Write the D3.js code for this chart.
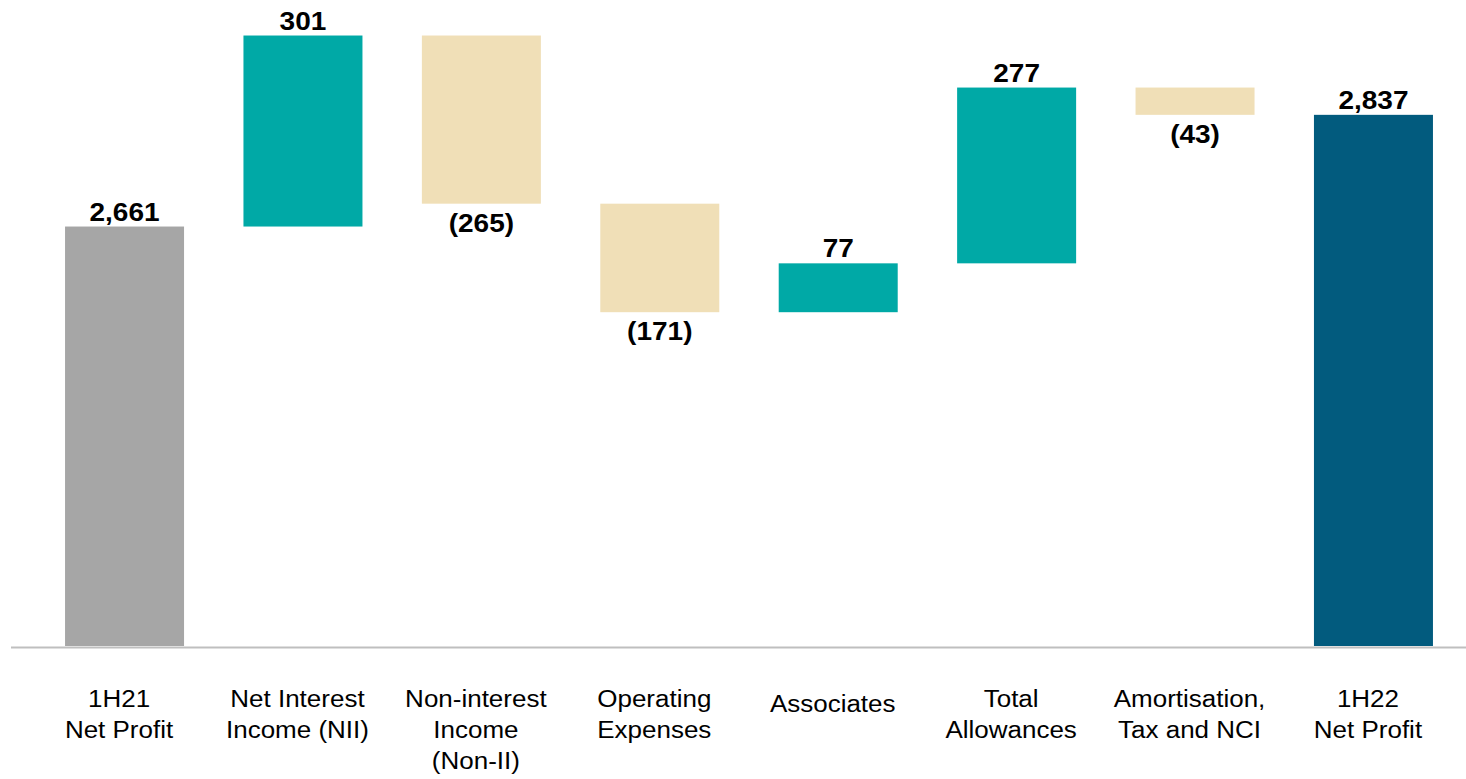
<!DOCTYPE html>
<html>
<head>
<meta charset="utf-8">
<script src="https://cdn.jsdelivr.net/npm/d3@7"></script>
<style>
  html, body { margin: 0; padding: 0; background: #fff; }
  svg { display: block; }
</style>
</head>
<body>
<svg id="chart" width="1466" height="779"></svg>
<script>
// ---- data ----
const categories = [
  ["1H21", "Net Profit"],
  ["Net Interest", "Income (NII)"],
  ["Non-interest", "Income", "(Non-II)"],
  ["Operating", "Expenses"],
  ["Associates"],
  ["Total", "Allowances"],
  ["Amortisation,", "Tax and NCI"],
  ["1H22", "Net Profit"]
];
const values = [2661, 301, -265, -171, 77, 277, -43, 2837];
const kinds = ["start", "delta", "delta", "delta", "delta", "delta", "delta", "end"];
const valueLabels = ["2,661", "301", "(265)", "(171)", "77", "277", "(43)", "2,837"];
const yDomain = [2000, 3000];

const colors = { start: "#a6a6a6", up: "#00a9a6", down: "#f0dfb7", end: "#025b7e" };

// ---- build waterfall ----
let running = 0;
const bars = values.map((v, i) => {
  let y0, y1, kind;
  if (kinds[i] === "start" || kinds[i] === "end") {
    y0 = yDomain[0]; y1 = v; running = v; kind = kinds[i];
  } else {
    y0 = running; y1 = running + v; running = y1; kind = v >= 0 ? "up" : "down";
  }
  return { i, v, y0, y1, kind, label: valueLabels[i], cat: categories[i] };
});

const svg = d3.select("#chart");
const x = d3.scaleBand().domain(d3.range(categories.length))
  .range([35.3, 1462.7]).paddingInner(0.333).paddingOuter(0.1667);
const y = d3.scaleLinear().domain(yDomain).range([646, 11.4]);

const sxVal = 1.12, sxCat = 1.13;

svg.append("g").selectAll("rect").data(bars).join("rect")
  .attr("x", d => x(d.i))
  .attr("width", x.bandwidth())
  .attr("y", d => y(Math.max(d.y0, d.y1)))
  .attr("height", d => Math.abs(y(d.y0) - y(d.y1)))
  .attr("fill", d => colors[d.kind]);

// baseline
svg.append("line")
  .attr("x1", 11).attr("x2", 1466)
  .attr("y1", 647.5).attr("y2", 647.5)
  .attr("stroke", "#bfbfbf").attr("stroke-width", 2);

// value labels
svg.append("g").selectAll("text").data(bars).join("text")
  .attr("transform", d => {
    const cx = x(d.i) + x.bandwidth() / 2;
    const top = y(Math.max(d.y0, d.y1)), bot = y(Math.min(d.y0, d.y1));
    const ty = d.kind === "down" ? bot + 28 : top - 6;
    return `translate(${cx},${ty}) scale(${sxVal},1)`;
  })
  .attr("text-anchor", "middle")
  .attr("font-family", "Liberation Sans, Arial, sans-serif")
  .attr("font-weight", "bold")
  .attr("font-size", 25)
  .attr("fill", "#000")
  .text(d => d.label);

// category labels
const catG = svg.append("g").selectAll("g").data(bars).join("g")
  .attr("transform", d => {
    const cx = x(d.i) + x.bandwidth() / 2 - 5.5;
    const ty = d.cat.length === 1 ? 712 : 707;
    return `translate(${cx},${ty}) scale(${sxCat},1)`;
  });
catG.selectAll("text").data(d => d.cat).join("text")
  .attr("x", 0)
  .attr("y", (t, j) => j * 31)
  .attr("text-anchor", "middle")
  .attr("font-family", "Liberation Sans, Arial, sans-serif")
  .attr("font-size", 23)
  .attr("fill", "#000")
  .text(t => t);
</script>
</body>
</html>
